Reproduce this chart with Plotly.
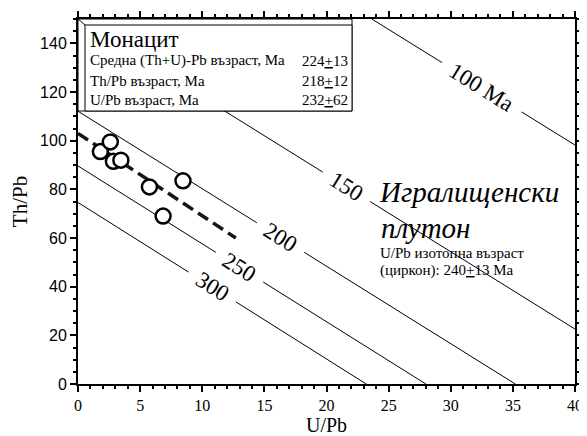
import plotly.graph_objects as go
import math

# ---- data ----
ages = [100, 150, 200, 250, 300]                      # Ma
th_intercepts = [224.9, 149.7, 112.1, 89.6, 74.6]     # Th/Pb at U/Pb = 0
u_intercepts = [71.0, 47.1, 35.2, 28.0, 23.2]         # U/Pb at Th/Pb = 0
age_labels = ["100 Ma", "150", "200", "250", "300"]
label_x = [32.5, 21.6, 16.3, 13.0, 10.8]              # U/Pb position of each label

sample_u = [1.8, 2.6, 2.85, 3.45, 5.75, 8.45, 6.85]
sample_th = [95.5, 99.5, 91.5, 92.0, 81.0, 83.5, 69.0]

fit_u = [0.0, 12.7]
fit_th = [103.0, 60.0]

legend_rows = ["Средна (Th+U)-Pb възраст, Ma", "Th/Pb възраст, Ma", "U/Pb възраст, Ma"]
legend_vals = ["224<u>+</u>13", "218<u>+</u>12", "232<u>+</u>62"]

XMAX, YMAX = 40, 150
SERIF = "Liberation Serif"
SANS = "Liberation Sans"

# target plot box in page pixels (page body adds an 8px offset)
PL, PR, PT, PB = 78, 575, 19, 384
OFF = 8
W, H = 587 - OFF, 436 - OFF
L, T = PL - OFF, PT - OFF
R, B = W - (PR - OFF), H - (PB - OFF)
pw, ph = PR - PL, PB - PT
sx, sy = pw / XMAX, ph / YMAX

fig = go.Figure()

annotations = []
for age, th, u, lab, xl in zip(ages, th_intercepts, u_intercepts, age_labels, label_x):
    x0 = max(0.0, u * (1 - YMAX / th))
    x1 = min(u, XMAX)
    ang = math.degrees(math.atan((th / u * sy) / sx))
    half = (len(lab) * 6.3 + 9) * math.cos(math.radians(ang)) / sx
    xs = [x0, xl - half, None, xl + half, x1]
    ys = [th * (1 - v / u) if v is not None else None for v in xs]
    fig.add_trace(go.Scatter(x=xs, y=ys, mode="lines", line=dict(color="black", width=1),
                             hoverinfo="skip", showlegend=False))
    annotations.append(dict(x=xl, y=th * (1 - xl / u), xref="x", yref="y", text=lab,
                            showarrow=False, textangle=ang,
                            font=dict(family=SERIF, size=23, color="black")))

fig.add_trace(go.Scatter(x=fit_u, y=fit_th, mode="lines",
                         line=dict(color="#1a1414", width=3.5, dash="12px,6px"),
                         hoverinfo="skip", showlegend=False))

fig.add_trace(go.Scatter(x=sample_u, y=sample_th, mode="markers",
                         marker=dict(symbol="circle", size=15, color="white",
                                     line=dict(color="black", width=2.5)),
                         showlegend=False))

def px2paper(px, py):
    return (px - PL) / pw, 1 - (py - PT) / ph

bx0, by0 = px2paper(85, 25)
bx1, by1 = px2paper(352, 111)
ox0, oy0 = px2paper(78, 19)
shapes = [
    dict(type="rect", xref="paper", yref="paper", x0=ox0, y0=by1, x1=bx1, y1=oy0,
         line=dict(color="black", width=1), fillcolor="white"),
    dict(type="rect", xref="paper", yref="paper", x0=bx0, y0=by1, x1=bx1, y1=by0,
         line=dict(color="black", width=1), fillcolor="white"),
    dict(type="line", xref="paper", yref="paper", x0=ox0, y0=oy0, x1=bx0, y1=by0,
         line=dict(color="black", width=1)),
]

tx, ty = px2paper(88, 40)
annotations.append(dict(x=tx, y=ty, xref="paper", yref="paper", text="Монацит",
                        showarrow=False, xanchor="left", yanchor="middle",
                        font=dict(family=SERIF, size=23, color="black")))
for i, (row, val) in enumerate(zip(legend_rows, legend_vals)):
    py = 61 + i * 19.5
    ax, ay = px2paper(88, py)
    annotations.append(dict(x=ax, y=ay, xref="paper", yref="paper", text=row,
                            showarrow=False, xanchor="left", yanchor="middle",
                            font=dict(family=SERIF, size=15, color="black")))
    vx, vy = px2paper(300, py)
    annotations.append(dict(x=vx, y=vy, xref="paper", yref="paper", text=val,
                            showarrow=False, xanchor="left", yanchor="middle",
                            font=dict(family=SERIF, size=15, color="black")))

for text, px, py, size, ital in [("Игралищенски", 377, 192, 29, True),
                                 ("плутон", 379, 228, 29, True),
                                 ("U/Pb изотопна възраст", 378, 253, 15, False),
                                 ("(циркон): 240<u>+</u>13 Ma", 378, 270, 15, False)]:
    ax, ay = px2paper(px, py)
    annotations.append(dict(x=ax, y=ay, xref="paper", yref="paper",
                            text=f"<i>{text}</i>" if ital else text,
                            showarrow=False, xanchor="left", yanchor="middle",
                            font=dict(family=SERIF, size=size, color="black")))

axis_common = dict(showgrid=False, zeroline=False, showline=True, linecolor="black",
                   linewidth=2, mirror="allticks", ticks="outside", tickcolor="black",
                   tickwidth=2, ticklen=6, automargin=False)

fig.update_layout(
    width=W, height=H, margin=dict(l=L, r=R, t=T, b=B),
    paper_bgcolor="white", plot_bgcolor="white",
    shapes=shapes, annotations=annotations,
    xaxis=dict(range=[0, XMAX], tick0=0, dtick=5, **axis_common,
               minor=dict(dtick=1, ticks="outside", ticklen=3, tickcolor="black", tickwidth=1.5),
               tickfont=dict(family=SERIF, size=16, color="black"),
               title=dict(text="U/Pb", font=dict(family=SERIF, size=20, color="black"), standoff=9)),
    yaxis=dict(range=[0, YMAX], tick0=0, dtick=20, **axis_common,
               minor=dict(dtick=5, ticks="outside", ticklen=3, tickcolor="black", tickwidth=1.5),
               tickfont=dict(family=SANS, size=16, color="black"),
               title=dict(text="Th/Pb", font=dict(family=SERIF, size=21, color="black"), standoff=12)),
)

fig.write_html("out.html")
